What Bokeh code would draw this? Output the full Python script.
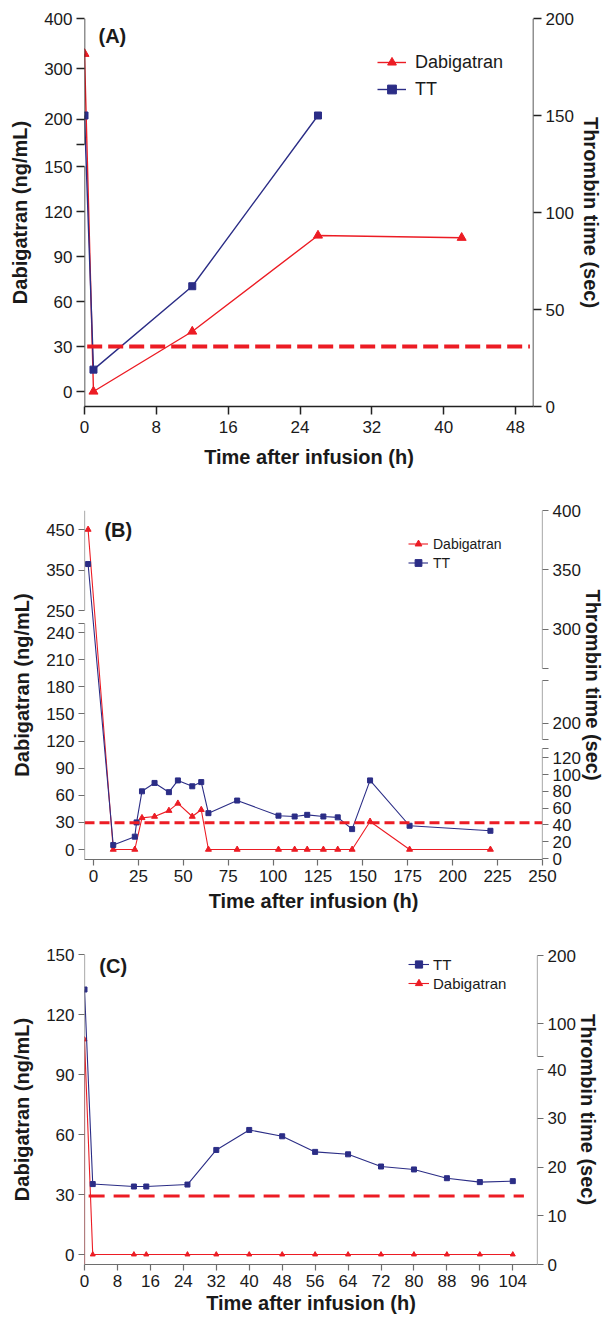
from bokeh.plotting import figure
from bokeh.models import FixedTicker, LinearAxis, Range1d, Legend, LegendItem, Label, Arrow
from bokeh.layouts import column
from bokeh.embed import file_html
from bokeh.resources import INLINE

# ================= DATA =================
# Panel A
a_dab_time = [0, 1, 12, 26, 42]
a_dab = [330, 0, 40, 104, 102.5]
a_tt_time = [0, 1, 12, 26]
a_tt = [150, 19, 62, 150]
a_threshold = 30
a_x_ticks = [0, 8, 16, 24, 32, 40, 48]
a_left_ticks_low = [0, 30, 60, 90, 120, 150]
a_left_ticks_high = [200, 300, 400]
a_right_ticks = [0, 50, 100, 150, 200]

# Panel B
b_dab_time = [-3, 11, 23, 27, 34, 42, 47, 55, 60, 64, 80, 103, 112, 119, 128, 136, 144, 154, 176, 221]
b_dab = [450, 0, 0, 35, 36.5, 43, 51, 36.5, 44, 0, 0, 0, 0, 0, 0, 0, 0, 31, 0, 0]
b_tt_time = [-3, 11, 23, 24, 27, 34, 42, 47, 55, 60, 64, 80, 103, 112, 119, 128, 136, 144, 154, 176, 221]
b_tt = [355, 16, 26, 43, 80, 90, 79, 93, 86, 91, 54, 69, 51, 50, 52, 50, 49, 35, 93, 39, 33]
b_threshold = 29.5
b_x_ticks = [0, 25, 50, 75, 100, 125, 150, 175, 200, 225, 250]
b_left_ticks_low = [0, 30, 60, 90, 120, 150, 180, 210, 240]
b_left_ticks_high = [250, 350, 450]
b_right_ticks_low = [0, 20, 40, 60, 80, 100, 120]
b_right_ticks_mid = [200]
b_right_ticks_high = [300, 350, 400]

# Panel C
c_tt_time = [0, 2, 12, 15, 25, 32, 40, 48, 56, 64, 72, 80, 88, 96, 104]
c_tt = [150, 16.5, 16, 16, 16.4, 23.5, 27.6, 26.3, 23.1, 22.6, 20.1, 19.5, 17.7, 16.9, 17.1]
c_dab_time = [0, 0, 2, 12, 15, 25, 32, 40, 48, 56, 64, 72, 80, 88, 96, 104]
c_dab = [-5, 107.5, 0, 0, 0, 0, 0, 0, 0, 0, 0, 0, 0, 0, 0, 0]
c_threshold = 29.2
c_x_ticks = [0, 8, 16, 24, 32, 40, 48, 56, 64, 72, 80, 88, 96, 104]
c_left_ticks = [0, 30, 60, 90, 120, 150]
c_right_ticks_low = [0, 10, 20, 30, 40]
c_right_ticks_high = [100, 200]

# ================= STYLE / LAYOUT =================
RED = "#EC1C24"
BLUE = "#2B2D86"
FONT = "Liberation Sans"
TXT = "#1a1a1a"


def seg_map(val, segs):
    for s in segs:
        d0, d1 = s["d"]
        v0, v1 = s["v"]
        if d0 <= val <= d1:
            return v0 + (val - d0) * (v1 - v0) / (d1 - d0)
    s = segs[0] if val < segs[0]["d"][0] else segs[-1]
    d0, d1 = s["d"]
    v0, v1 = s["v"]
    return v0 + (val - d0) * (v1 - v0) / (d1 - d0)


def setup_axis(p, axis, segs, xedge, color, lw, tick_out, fsize, label, standoff):
    ticks, ov = [], {}
    for s in segs:
        for t in s["ticks"]:
            v = round(seg_map(t, [s]), 3)
            ticks.append(v)
            ov[v] = str(t)
        for t in s["blank"]:
            v = round(seg_map(t, [s]), 3)
            ticks.append(v)
            ov[v] = ""
    axis.ticker = FixedTicker(ticks=ticks)
    axis.major_label_overrides = ov
    axis.axis_line_color = None
    axis.major_tick_line_color = color
    axis.major_tick_line_width = lw
    axis.major_tick_out = tick_out
    axis.major_tick_in = 0
    axis.minor_tick_line_color = None
    axis.major_label_text_font = FONT
    axis.major_label_text_font_size = fsize
    axis.major_label_text_color = TXT
    axis.major_label_standoff = 4
    axis.axis_label = label
    axis.axis_label_text_font = FONT
    axis.axis_label_text_font_style = "bold"
    axis.axis_label_text_font_size = "20px"
    axis.axis_label_text_color = TXT
    axis.axis_label_standoff = standoff
    for s in segs:
        p.add_layout(Arrow(end=None, x_start=xedge, x_end=xedge,
                           y_start=s["line"][0], y_end=s["line"][1],
                           line_color=color, line_width=lw))


def make_panel(cfg):
    x0, x1 = cfg["xr"]
    p = figure(frame_width=cfg["fw"], frame_height=cfg["fh"],
               x_range=Range1d(x0, x1), y_range=Range1d(0, cfg["fh"]),
               min_border_left=cfg["bl"], min_border_right=cfg["br"],
               min_border_top=cfg["bt"], min_border_bottom=cfg["bb"],
               output_backend="svg", toolbar_location=None)
    p.xgrid.visible = False
    p.ygrid.visible = False
    p.outline_line_color = None
    p.background_fill_color = "white"

    color, lw, tick_out = cfg["axcolor"], cfg["axlw"], cfg["tick_out"]
    # bottom axis
    xa = p.xaxis[0]
    xa.ticker = FixedTicker(ticks=cfg["xticks"])
    xa.axis_line_color = color
    xa.axis_line_width = lw
    xa.major_tick_line_color = color
    xa.major_tick_line_width = lw
    xa.major_tick_out = tick_out
    xa.major_tick_in = 0
    xa.minor_tick_line_color = None
    xa.major_label_text_font = FONT
    xa.major_label_text_font_size = cfg["fsize"]
    xa.major_label_text_color = TXT
    xa.major_label_standoff = cfg["xlstand"]
    xa.axis_label = "Time after infusion (h)"
    xa.axis_label_text_font = FONT
    xa.axis_label_text_font_style = "bold"
    xa.axis_label_text_font_size = "20px"
    xa.axis_label_text_color = TXT
    xa.axis_label_standoff = cfg["xtstand"]

    setup_axis(p, p.yaxis[0], cfg["left"], x0, color, lw, tick_out, cfg["fsize"],
               "Dabigatran (ng/mL)", cfg["lstand"])
    ra = LinearAxis()
    p.add_layout(ra, "right")
    setup_axis(p, ra, cfg["right"], x1, color, lw, tick_out, cfg["fsize"],
               "Thrombin time (sec)", cfg["rstand"])

    dab_v = [seg_map(d, cfg["left"]) for d in cfg["dab"]]
    tt_v = [seg_map(t, cfg["right"]) for t in cfg["tt"]]
    dl = p.line(cfg["dab_time"], dab_v, line_color=RED, line_width=cfg["lw"])
    ms = cfg["mk_from"]
    ds = p.scatter(cfg["dab_time"][ms:], dab_v[ms:], marker="triangle", size=cfg["tri"],
                   fill_color=RED, line_color=RED)
    tl = p.line(cfg["tt_time"], tt_v, line_color=BLUE, line_width=cfg["lw"])
    ts = p.scatter(cfg["tt_time"], tt_v, marker="square", size=cfg["sq"],
                   fill_color=BLUE, line_color=BLUE)
    thr = seg_map(cfg["thr"], cfg["left"])
    p.line(list(cfg["thr_x"]), [thr, thr], line_color=RED, line_width=cfg["thr_w"],
           line_dash=cfg["thr_dash"])

    items_map = {"Dabigatran": [dl, ds], "TT": [tl, ts]}
    items = [LegendItem(label=n, renderers=items_map[n]) for n in cfg["legend_order"]]
    lg = Legend(items=items, location=cfg["lg_loc"], padding=0, margin=0,
                glyph_width=cfg["lg_gw"], glyph_height=cfg["lg_rh"], label_height=cfg["lg_rh"],
                label_standoff=cfg["lg_st"], spacing=cfg["lg_sp"],
                border_line_color=None, background_fill_alpha=0,
                label_text_font=FONT, label_text_font_size=cfg["lg_fs"], label_text_color=TXT)
    p.add_layout(lg)

    p.add_layout(Label(x=cfg["tag_xy"][0], y=cfg["tag_xy"][1], text=cfg["tag"],
                       text_font=FONT, text_font_style="bold", text_font_size="20px",
                       text_color=TXT, text_baseline="middle", text_align="left"))
    return p


cfgA = dict(
    fw=449, fh=388, bl=84, br=71, bt=18, bb=72, xr=(0, 50), xticks=a_x_ticks,
    axcolor="#222222", axlw=1.5, tick_out=8, fsize="17px", lstand=10, rstand=3,
    xlstand=6, xtstand=10,
    left=[dict(d=(0, 150), v=(15, 240), line=(0, 240), ticks=a_left_ticks_low, blank=[]),
          dict(d=(150, 400), v=(262, 388), line=(262, 388), ticks=a_left_ticks_high, blank=[150])],
    right=[dict(d=(0, 200), v=(0, 388), line=(0, 388), ticks=a_right_ticks, blank=[])],
    dab_time=a_dab_time, dab=a_dab, tt_time=a_tt_time, tt=a_tt, mk_from=0,
    lw=1.4, tri=9, sq=7, thr=a_threshold, thr_x=(0.3, 49.6), thr_w=4, thr_dash="15 6",
    legend_order=["Dabigatran", "TT"], lg_loc=(293, 306), lg_gw=29, lg_rh=22, lg_st=9, lg_sp=5,
    lg_fs="18px", tag="(A)", tag_xy=(1.56, 371),
)

cfgB = dict(
    fw=458, fh=349, bl=78, br=68, bt=32, bb=61, xr=(-5, 250), xticks=b_x_ticks,
    axcolor="#6e6e6e", axlw=1.2, tick_out=6, fsize="17px", lstand=10, rstand=-2,
    xlstand=4, xtstand=5,
    left=[dict(d=(0, 250), v=(10, 236), line=(0, 236), ticks=b_left_ticks_low, blank=[250]),
          dict(d=(250, 497), v=(249, 349), line=(249, 349), ticks=b_left_ticks_high, blank=[])],
    right=[dict(d=(0, 131), v=(1, 111), line=(0, 111), ticks=b_right_ticks_low, blank=[131]),
           dict(d=(186.6, 236), v=(120, 179), line=(120, 179), ticks=b_right_ticks_mid, blank=[186.6, 236]),
           dict(d=(267.2, 400), v=(191, 349), line=(191, 349), ticks=b_right_ticks_high, blank=[267.2])],
    dab_time=b_dab_time, dab=b_dab, tt_time=b_tt_time, tt=b_tt, mk_from=0,
    lw=1.1, tri=6, sq=5, thr=b_threshold, thr_x=(-5, 250), thr_w=3, thr_dash="10 5",
    legend_order=["Dabigatran", "TT"], lg_loc=(324, 288), lg_gw=20, lg_rh=17, lg_st=5, lg_sp=2,
    lg_fs="14px", tag="(B)", tag_xy=(6.1, 330),
)

cfgC = dict(
    fw=453, fh=310, bl=83, br=68, bt=34, bb=56, xr=(0, 110), xticks=c_x_ticks,
    axcolor="#6e6e6e", axlw=1.2, tick_out=6, fsize="17px", lstand=10, rstand=-2,
    xlstand=4, xtstand=2,
    left=[dict(d=(0, 150), v=(10, 310), line=(0, 310), ticks=c_left_ticks, blank=[])],
    right=[dict(d=(0, 40), v=(0, 195), line=(0, 195), ticks=c_right_ticks_low, blank=[]),
           dict(d=(51.5, 200), v=(208, 309), line=(208, 309), ticks=c_right_ticks_high, blank=[51.5])],
    dab_time=c_dab_time, dab=c_dab, tt_time=c_tt_time, tt=c_tt, mk_from=1,
    lw=1.1, tri=5, sq=5, thr=c_threshold, thr_x=(1, 106.7), thr_w=3, thr_dash="16 9",
    legend_order=["TT", "Dabigatran"], lg_loc=(324, 272), lg_gw=21, lg_rh=18, lg_st=4, lg_sp=1,
    lg_fs="15px", tag="(C)", tag_xy=(3.6, 299),
)

pA = make_panel(cfgA)
pB = make_panel(cfgB)
pC = make_panel(cfgC)

layout = column(pA, pB, pC)
open("out.html", "w").write(file_html(layout, INLINE))
